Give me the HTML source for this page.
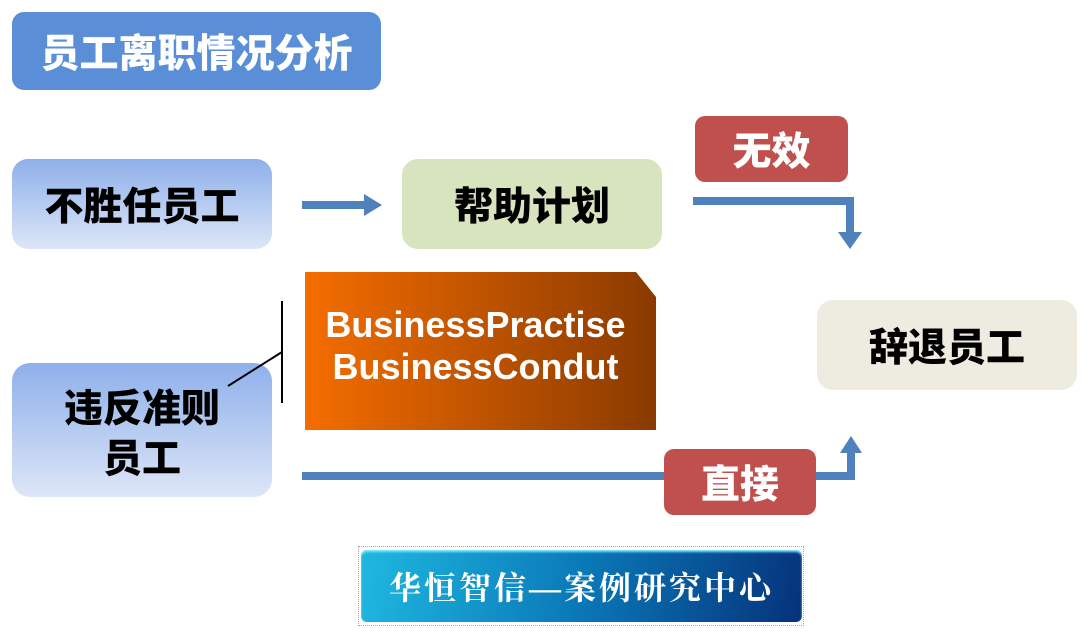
<!DOCTYPE html>
<html><head><meta charset="utf-8"><style>
body{margin:0;width:1089px;height:636px;background:#fff;position:relative;overflow:hidden;font-family:"Liberation Sans","Noto Sans CJK SC",sans-serif}
.b{position:absolute;display:flex;align-items:center;justify-content:center;font-weight:900;text-align:center;box-sizing:border-box}
</style></head><body>
<div class="b" style="left:12px;top:12px;width:369px;height:78px;background:#5a8fd8;border-radius:12px;color:#fff;font-size:39px">员工离职情况分析</div>
<div class="b" style="left:12px;top:159px;width:260px;height:90px;border-radius:16px;background:linear-gradient(#8eb0ea,#dde6f7);font-size:39px;color:#000">不胜任员工</div>
<div class="b" style="left:402px;top:159px;width:260px;height:90px;border-radius:16px;background:#d8e4bd;font-size:39px;color:#000">帮助计划</div>
<div class="b" style="left:695px;top:116px;width:153px;height:66px;border-radius:10px;background:#c0504d;font-size:39px;color:#fff">无效</div>
<div class="b" style="left:817px;top:300px;width:260px;height:90px;border-radius:16px;background:#eeece1;font-size:39px;color:#000">辞退员工</div>
<div class="b" style="left:12px;top:363px;width:260px;height:134px;border-radius:18px;background:linear-gradient(#8eb0ea,#dde6f7);font-size:39px;color:#000;line-height:50px;padding-top:10px">违反准则<br>员工</div>
<div class="b" style="left:305px;top:272px;width:351px;height:158px;background:linear-gradient(90deg,#f46d00,#8a3a00);clip-path:polygon(0 0,331px 0,351px 25px,351px 158px,0 158px);color:#fff;font-size:36px;line-height:42px;flex-direction:column;padding-right:10px;padding-bottom:10px;font-weight:bold">BusinessPractise<br>BusinessCondut</div>
<svg style="position:absolute;left:0;top:0" width="1089" height="636">
<line x1="302" y1="205" x2="366" y2="205" stroke="#4f81bd" stroke-width="8"/>
<polygon points="364,194 382,205 364,216" fill="#4f81bd"/>
<polyline points="693,201 850,201 850,234" fill="none" stroke="#4f81bd" stroke-width="8"/>
<polygon points="838,232 850,249 862,232" fill="#4f81bd"/>
<polyline points="302,476 851,476 851,452" fill="none" stroke="#4f81bd" stroke-width="8"/>
<polygon points="840,453 851,436 862,453" fill="#4f81bd"/>
<line x1="282" y1="301" x2="282" y2="403" stroke="#000" stroke-width="2"/>
<line x1="228" y1="386" x2="282" y2="352" stroke="#000" stroke-width="2"/>
</svg>
<div class="b" style="left:664px;top:449px;width:152px;height:66px;border-radius:10px;background:#c0504d;font-size:39px;color:#fff">直接</div>
<div class="b" style="left:358px;top:546px;width:446px;height:80px;border:1px dotted #aaa"></div>
<div class="b" style="left:361px;top:550px;width:441px;height:72px;border-radius:6px;background:linear-gradient(100deg,#1fb8e0,#0a78b8 50%,#06327a);color:#fff;font-family:'Liberation Serif','Noto Serif CJK SC',serif;font-weight:bold;font-size:32px;letter-spacing:3px;box-shadow:inset 0 2px 2px #7fe8ff">华恒智信—案例研究中心</div>
</body></html>
